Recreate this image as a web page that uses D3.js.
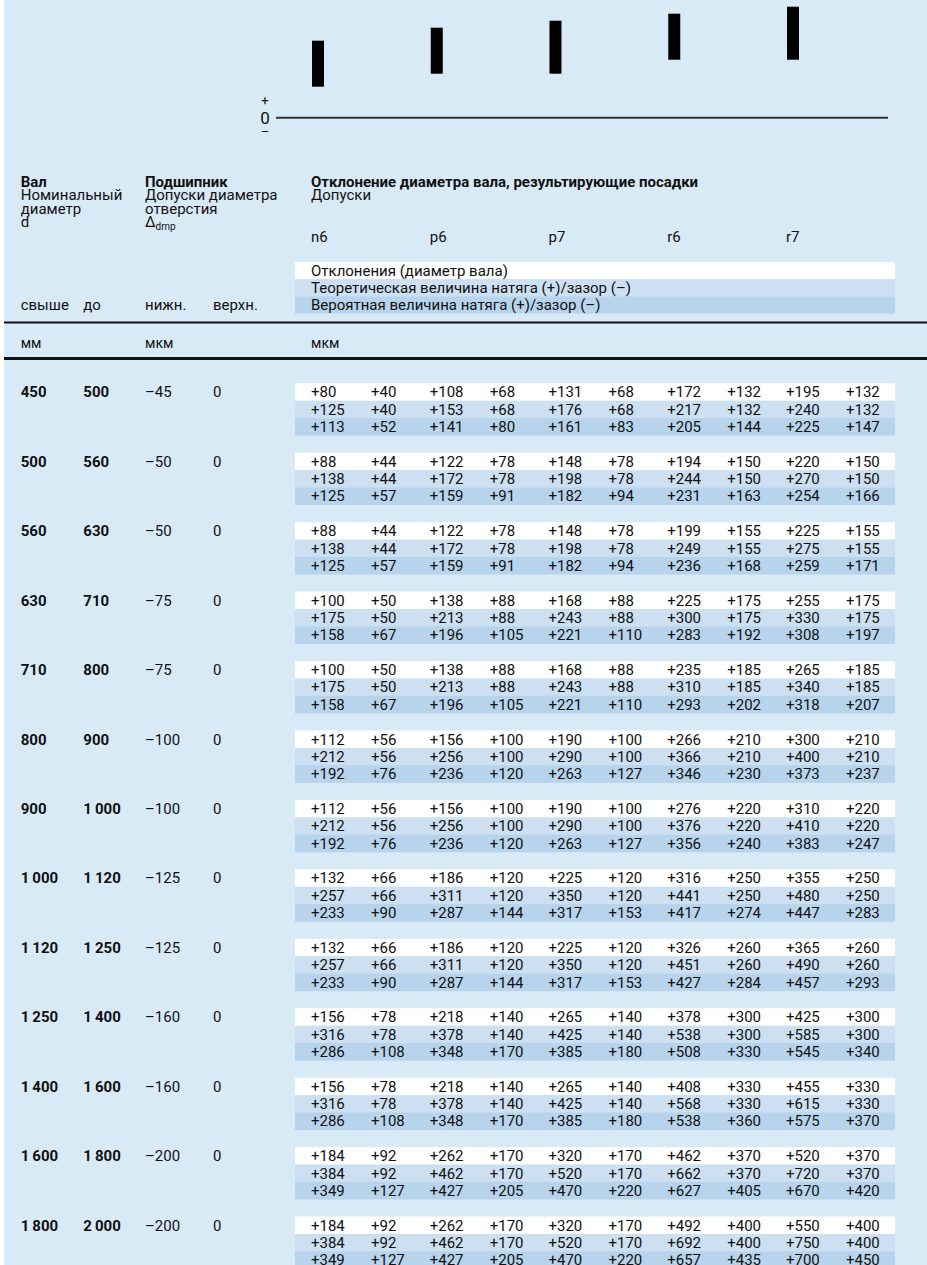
<!DOCTYPE html>
<html><head><meta charset="utf-8">
<script src="https://cdn.jsdelivr.net/npm/d3@7"></script>
<style>
body{margin:0;background:#fff}
svg text{font-family:Roboto,"Noto Sans",sans-serif;fill:#111}
</style></head>
<body><svg id="chart" width="927" height="1265"></svg>
<script>
// ---------- data ----------
const fits = ["n6", "p6", "p7", "r6", "r7"];
// schematic tolerance-zone bars of the sketch above the table (arbitrary units above zero line)
const schemLow  = [31, 44, 44, 58, 58];
const schemHigh = [77, 90, 97, 104, 111];

const dFrom = [450, 500, 560, 630, 710, 800, 900, 1000, 1120, 1250, 1400, 1600, 1800];
const dTo   = [500, 560, 630, 710, 800, 900, 1000, 1120, 1250, 1400, 1600, 1800, 2000];
const boreLow  = [-45, -50, -50, -75, -75, -100, -100, -125, -125, -160, -160, -200, -200];
const boreHigh = [0, 0, 0, 0, 0, 0, 0, 0, 0, 0, 0, 0, 0];

// deviations (shaft diameter): pairs upper/lower for n6 p6 p7 r6 r7
const shaftDev = [
  [80,40,108,68,131,68,172,132,195,132],
  [88,44,122,78,148,78,194,150,220,150],
  [88,44,122,78,148,78,199,155,225,155],
  [100,50,138,88,168,88,225,175,255,175],
  [100,50,138,88,168,88,235,185,265,185],
  [112,56,156,100,190,100,266,210,300,210],
  [112,56,156,100,190,100,276,220,310,220],
  [132,66,186,120,225,120,316,250,355,250],
  [132,66,186,120,225,120,326,260,365,260],
  [156,78,218,140,265,140,378,300,425,300],
  [156,78,218,140,265,140,408,330,455,330],
  [184,92,262,170,320,170,462,370,520,370],
  [184,92,262,170,320,170,492,400,550,400]
];
// theoretical interference (+) / clearance (-)
const theoFit = [
  [125,40,153,68,176,68,217,132,240,132],
  [138,44,172,78,198,78,244,150,270,150],
  [138,44,172,78,198,78,249,155,275,155],
  [175,50,213,88,243,88,300,175,330,175],
  [175,50,213,88,243,88,310,185,340,185],
  [212,56,256,100,290,100,366,210,400,210],
  [212,56,256,100,290,100,376,220,410,220],
  [257,66,311,120,350,120,441,250,480,250],
  [257,66,311,120,350,120,451,260,490,260],
  [316,78,378,140,425,140,538,300,585,300],
  [316,78,378,140,425,140,568,330,615,330],
  [384,92,462,170,520,170,662,370,720,370],
  [384,92,462,170,520,170,692,400,750,400]
];
// probable interference (+) / clearance (-)
const probFit = [
  [113,52,141,80,161,83,205,144,225,147],
  [125,57,159,91,182,94,231,163,254,166],
  [125,57,159,91,182,94,236,168,259,171],
  [158,67,196,105,221,110,283,192,308,197],
  [158,67,196,105,221,110,293,202,318,207],
  [192,76,236,120,263,127,346,230,373,237],
  [192,76,236,120,263,127,356,240,383,247],
  [233,90,287,144,317,153,417,274,447,283],
  [233,90,287,144,317,153,427,284,457,293],
  [286,108,348,170,385,180,508,330,545,340],
  [286,108,348,170,385,180,538,360,575,370],
  [349,127,427,205,470,220,627,405,670,420],
  [349,127,427,205,470,220,657,435,700,450]
];
const legendLabels = [
  "Отклонения (диаметр вала)",
  "Теоретическая величина натяга (+)/зазор (–)",
  "Вероятная величина натяга (+)/зазор (–)"
];
const bandColors = ["#ffffff", "#cce0f2", "#b8d4ec"];

// ---------- helpers ----------
const fmtSigned = v => v > 0 ? "+" + v : v < 0 ? "–" + Math.abs(v) : "0";
const fmtSize = n => n >= 1000 ? Math.floor(n / 1000) + "\u2009" + String(n % 1000).padStart(3, "0") : String(n);

const svg = d3.select("#chart");
const W = 927, H = 1265;

svg.append("rect").attr("x", 4).attr("y", 0).attr("width", W - 4).attr("height", H).attr("fill", "#d9eaf7");

// ---------- scales ----------
const xFit = d3.scalePoint().domain(fits).range([311, 786]);
const xSub = d3.scalePoint().domain([0, 1]).range([0, 60]);
const ySchem = d3.scaleLinear().domain([0, 118]).range([117.7, -0.3]);
const rowH = 17.36;
const yRow = d3.scaleLinear().domain([0, 1]).range([383.3, 383.3 + rowH]);

const colX = [20.7, 83.3, 145, 213];
const FS = 15;

// ---------- top sketch ----------
const sk = svg.append("g");
sk.append("line").attr("x1", 276).attr("x2", 888).attr("y1", ySchem(0)).attr("y2", ySchem(0))
  .attr("stroke", "#333").attr("stroke-width", 2);
sk.selectAll("rect.bar").data(fits).join("rect").attr("class", "bar")
  .attr("x", d => xFit(d) + 1).attr("width", 12)
  .attr("y", (d, i) => ySchem(schemHigh[i]))
  .attr("height", (d, i) => ySchem(schemLow[i]) - ySchem(schemHigh[i]))
  .attr("fill", "#000");
sk.append("text").attr("x", 265).attr("y", 105).attr("text-anchor", "middle").attr("font-size", 13).text("+");
sk.append("text").attr("x", 265).attr("y", 124).attr("text-anchor", "middle").attr("font-size", 17).text("0");
sk.append("text").attr("x", 265).attr("y", 136).attr("text-anchor", "middle").attr("font-size", 13).text("–");

// ---------- header ----------
const hd = svg.append("g").attr("font-size", FS);
const LP = 13.3, Y0 = 187;
const lines = (x, y0, arr, bold) => arr.forEach((t, i) =>
  hd.append("text").attr("x", x).attr("y", y0 + i * LP).attr("font-weight", bold && i === 0 ? 700 : 400).text(t));
lines(colX[0], Y0, ["Вал", "Номинальный", "диаметр", "d"], true);
lines(colX[2], Y0, ["Подшипник", "Допуски диаметра", "отверстия"], true);
const delta = hd.append("text").attr("x", colX[2]).attr("y", Y0 + 3 * LP);
delta.append("tspan").text("Δ");
delta.append("tspan").attr("font-size", 10).attr("dy", 3).text("dmp");
lines(xFit(fits[0]), Y0, ["Отклонение диаметра вала, результирующие посадки", "Допуски"], true);
hd.selectAll("text.fit").data(fits).join("text").attr("class", "fit")
  .attr("x", d => xFit(d)).attr("y", 242).text(d => d);

// legend bands
const legY = d3.scaleLinear().domain([0, 1]).range([262, 279.2]);
hd.selectAll("rect.leg").data(legendLabels).join("rect").attr("class", "leg")
  .attr("x", 295).attr("width", 600).attr("y", (d, i) => legY(i)).attr("height", 17.2)
  .attr("fill", (d, i) => bandColors[i]);
hd.selectAll("text.leg").data(legendLabels).join("text").attr("class", "leg")
  .attr("x", xFit(fits[0])).attr("y", (d, i) => legY(i) + 13.5).text(d => d);

["свыше", "до", "нижн.", "верхн."].forEach((t, i) =>
  hd.append("text").attr("x", colX[i]).attr("y", 310).text(t));
svg.append("line").attr("x1", 4).attr("x2", W).attr("y1", 322.5).attr("y2", 322.5).attr("stroke", "#111").attr("stroke-width", 2);
[["мм", colX[0]], ["мкм", colX[2]], ["мкм", xFit(fits[0])]].forEach(([t, x]) =>
  hd.append("text").attr("x", x).attr("y", 347.5).attr("font-size", 14).text(t));
svg.append("line").attr("x1", 4).attr("x2", W).attr("y1", 358.5).attr("y2", 358.5).attr("stroke", "#111").attr("stroke-width", 3);

// ---------- body ----------
const body = svg.append("g").attr("font-size", FS);
const groups = body.selectAll("g.grp").data(dFrom).join("g").attr("class", "grp");
const series = [shaftDev, theoFit, probFit];

groups.each(function (d, gi) {
  const g = d3.select(this);
  const top = gi * 4;
  series.forEach((s, r) => {
    g.append("rect").attr("x", 295).attr("width", 600)
      .attr("y", yRow(top + r)).attr("height", rowH + 0.3).attr("fill", bandColors[r]);
  });
  const base = yRow(top) + 14;
  g.append("text").attr("x", colX[0]).attr("y", base).attr("font-weight", 700).text(fmtSize(dFrom[gi]));
  g.append("text").attr("x", colX[1]).attr("y", base).attr("font-weight", 700).text(fmtSize(dTo[gi]));
  g.append("text").attr("x", colX[2]).attr("y", base).text(fmtSigned(boreLow[gi]));
  g.append("text").attr("x", colX[3]).attr("y", base).text(fmtSigned(boreHigh[gi]));
  series.forEach((s, r) => {
    s[gi].forEach((v, k) => {
      const f = fits[Math.floor(k / 2)];
      g.append("text").attr("x", xFit(f) + xSub(k % 2)).attr("y", yRow(top + r) + 14).text(fmtSigned(v));
    });
  });
});
</script></body></html>
